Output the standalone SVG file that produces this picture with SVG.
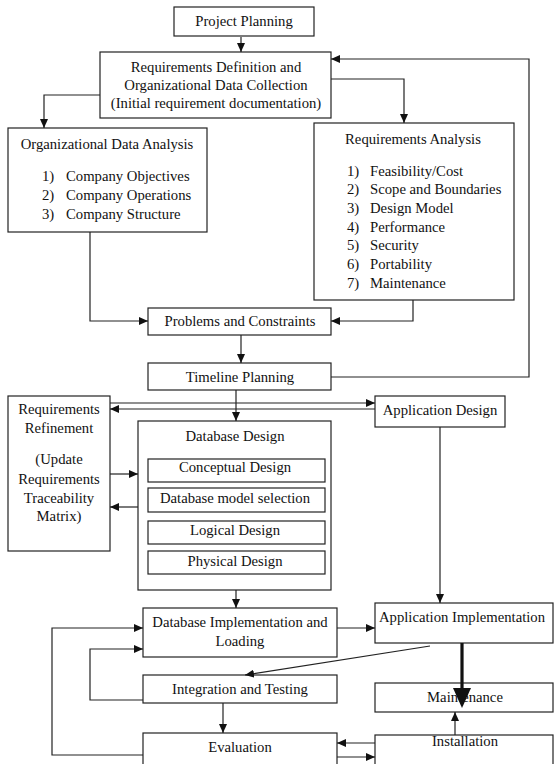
<svg xmlns="http://www.w3.org/2000/svg" width="555" height="764" viewBox="0 0 555 764">
<defs>
<style>
.b{fill:#fff;stroke:#222;stroke-width:1.2}
.t{font-family:"Liberation Serif","Times New Roman",serif;font-size:14.7px;fill:#111;text-anchor:middle;dominant-baseline:central}
.l{text-anchor:start}
.c{fill:none;stroke:#222;stroke-width:1.2}
</style>
<marker id="ah" markerWidth="9" markerHeight="8" refX="9" refY="4" orient="auto" markerUnits="userSpaceOnUse"><path d="M0,0 L9,4 L0,8 z" fill="#111"/></marker>
</defs>
<rect width="555" height="764" fill="#fff"/>
<g id="project-planning"><rect class="b" x="174" y="7" width="140" height="29"/><text class="t" x="244" y="21">Project Planning</text></g>
<g id="req-definition"><rect class="b" x="100" y="52" width="231" height="66"/>
<text class="t" x="216" y="67">Requirements Definition and</text>
<text class="t" x="216" y="85">Organizational Data Collection</text>
<text class="t" x="216" y="103">(Initial requirement documentation)</text></g>
<g id="org-data-analysis"><rect class="b" x="8" y="128" width="199" height="104"/>
<text class="t" x="107" y="144">Organizational Data Analysis</text>
<text class="t l" x="42" y="176">1)</text><text class="t l" x="66" y="176">Company Objectives</text>
<text class="t l" x="42" y="195">2)</text><text class="t l" x="66" y="195">Company Operations</text>
<text class="t l" x="42" y="214">3)</text><text class="t l" x="66" y="214">Company Structure</text></g>
<g id="req-analysis"><rect class="b" x="314" y="123" width="200" height="177"/>
<text class="t" x="413" y="139">Requirements Analysis</text>
<text class="t l" x="347" y="171">1)</text><text class="t l" x="370" y="171">Feasibility/Cost</text>
<text class="t l" x="347" y="189">2)</text><text class="t l" x="370" y="189">Scope and Boundaries</text>
<text class="t l" x="347" y="208">3)</text><text class="t l" x="370" y="208">Design Model</text>
<text class="t l" x="347" y="227">4)</text><text class="t l" x="370" y="227">Performance</text>
<text class="t l" x="347" y="245">5)</text><text class="t l" x="370" y="245">Security</text>
<text class="t l" x="347" y="264">6)</text><text class="t l" x="370" y="264">Portability</text>
<text class="t l" x="347" y="283">7)</text><text class="t l" x="370" y="283">Maintenance</text></g>
<g id="problems-constraints"><rect class="b" x="148" y="308" width="183" height="27"/><text class="t" x="240" y="321">Problems and Constraints</text></g>
<g id="timeline-planning"><rect class="b" x="148" y="363" width="183" height="27"/><text class="t" x="240" y="377">Timeline Planning</text></g>
<g id="req-refinement"><rect class="b" x="8" y="396" width="102" height="155"/>
<text class="t" x="59" y="409">Requirements</text>
<text class="t" x="59" y="428">Refinement</text>
<text class="t" x="59" y="459">(Update</text>
<text class="t" x="59" y="479">Requirements</text>
<text class="t" x="59" y="498">Traceability</text>
<text class="t" x="59" y="516">Matrix)</text></g>
<g id="app-design"><rect class="b" x="375" y="396" width="130" height="31"/><text class="t" x="440" y="410">Application Design</text></g>
<g id="database-design"><rect class="b" x="138" y="421" width="193" height="169"/>
<text class="t" x="235" y="436">Database Design</text>
<rect class="b" x="148" y="459" width="177" height="23"/><text class="t" x="235" y="467">Conceptual Design</text>
<rect class="b" x="148" y="488" width="177" height="24"/><text class="t" x="235" y="498">Database model selection</text>
<rect class="b" x="148" y="521" width="177" height="23"/><text class="t" x="235" y="530">Logical Design</text>
<rect class="b" x="148" y="551" width="177" height="23"/><text class="t" x="235" y="561">Physical Design</text></g>
<g id="db-implementation"><rect class="b" x="143" y="608" width="194" height="49"/>
<text class="t" x="240" y="622">Database Implementation and</text>
<text class="t" x="240" y="641">Loading</text></g>
<g id="app-implementation"><rect class="b" x="375" y="603" width="178" height="40"/><text class="t" x="462" y="617">Application Implementation</text></g>
<g id="integration-testing"><rect class="b" x="143" y="675" width="194" height="28"/><text class="t" x="240" y="689">Integration and Testing</text></g>
<g id="maintenance"><rect class="b" x="375" y="683" width="178" height="29"/><text class="t" x="465" y="697">Maintenance</text></g>
<g id="evaluation"><rect class="b" x="143" y="733" width="194" height="40"/><text class="t" x="240" y="747">Evaluation</text></g>
<g id="installation"><rect class="b" x="375" y="735" width="178" height="40"/><text class="t" x="465" y="741">Installation</text></g>
<g id="connectors">
<path class="c" d="M241,37 V52" marker-end="url(#ah)"/>
<path class="c" d="M100,95 H44 V128" marker-end="url(#ah)"/>
<path class="c" d="M331,79 H404 V123" marker-end="url(#ah)"/>
<path class="c" d="M331,377 H529 V59 H331" marker-end="url(#ah)"/>
<path class="c" d="M90,232 V321 H148" marker-end="url(#ah)"/>
<path class="c" d="M413,300 V321 H331" marker-end="url(#ah)"/>
<path class="c" d="M241,335 V363" marker-end="url(#ah)"/>
<path class="c" d="M236,390 V421" marker-end="url(#ah)"/>
<path class="c" d="M110,403 H375" marker-end="url(#ah)"/>
<path class="c" d="M375,409 H110" marker-end="url(#ah)"/>
<path class="c" d="M110,474 H138" marker-end="url(#ah)"/>
<path class="c" d="M138,507 H110" marker-end="url(#ah)"/>
<path class="c" d="M440,427 V603" marker-end="url(#ah)"/>
<path class="c" d="M236,590 V608" marker-end="url(#ah)"/>
<path class="c" d="M337,628 H375" marker-end="url(#ah)"/>
<path class="c" d="M430,646 L245,675" marker-end="url(#ah)"/>
<path class="c" d="M143,700 H90 V649 H143" marker-end="url(#ah)"/>
<path class="c" d="M223,703 V733" marker-end="url(#ah)"/>
<path class="c" d="M143,755 H52 V628 H143" marker-end="url(#ah)"/>
<path class="c" d="M375,743 H337" marker-end="url(#ah)"/>
<path class="c" d="M337,757 H375" marker-end="url(#ah)"/>
<path class="c" d="M455,735 V712" marker-end="url(#ah)"/>
<path d="M462,643 V690" stroke="#111" stroke-width="3.2" fill="none"/>
<path d="M453,688 L471,688 L462,708 z" fill="#111"/>
</g>
</svg>
